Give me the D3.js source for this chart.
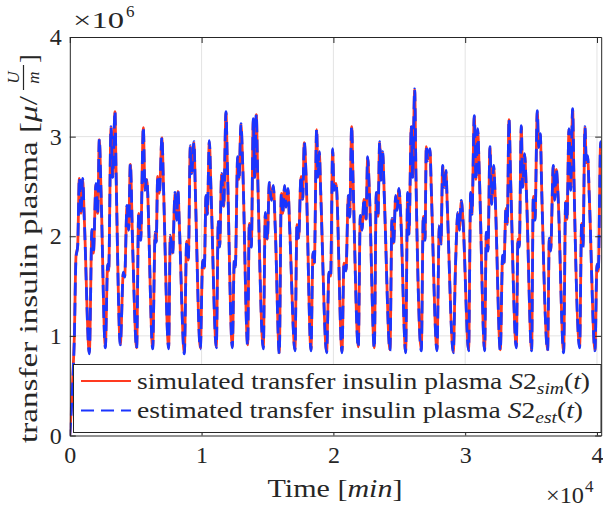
<!DOCTYPE html>
<html>
<head>
<meta charset="utf-8">
<script src="https://cdn.jsdelivr.net/npm/d3@7"></script>
<style>
  body { margin: 0; background: #fff; }
  svg { display: block; }
  text { font-family: "Liberation Serif", "DejaVu Serif", serif; fill: #262626; }
</style>
</head>
<body>
<div id="chart"></div>
<script>
// Time axis in minutes, insulin values in units of 1e6 (axis shows x10^6)
const timeMin = [
    0, 217, 344, 470, 597, 723, 850, 976, 1103,
    1482, 1684, 1786, 1988, 2114, 2241, 2367,
    2696, 2873, 2949, 3126, 3252, 3429, 3505,
    3834, 4062, 4163, 4340, 4466, 4593, 4770,
    5073, 5225, 5377, 5579, 5705, 5832,
    6287, 6480, 6560, 6666, 6793, 6995, 7096,
    7501, 7627, 7805, 7982, 8108, 8209, 8310,
    8690, 8867, 8993, 9145, 9246, 9423, 9524,
    9904, 10081, 10207, 10334, 10435, 10586, 10713,
    11117, 11269, 11370, 11522, 11674, 11851, 11952,
    12331, 12483, 12559, 12736, 12837, 12989, 13115,
    13495, 13621, 13773, 13924, 14026, 14152, 14253,
    14683, 14835, 14987, 15138, 15290, 15442, 15594,
    15897, 16049, 16150, 16302, 16403, 16555, 16681,
    17086, 17237, 17364, 17541, 17667, 17794, 17920,
    18300, 18451, 18553, 18729, 18831, 18932, 19033,
    19488, 19665, 19792, 19943, 20045, 20196,
    20652, 20804, 20956, 21133, 21234, 21386, 21487,
    21891, 22043, 22170, 22321, 22473, 22600, 22726,
    23105, 23257, 23384, 23510, 23611, 23738, 23864,
    24294, 24446, 24572, 24724, 24825, 24977, 25103,
    25483, 25634, 25736, 25913, 26014, 26166, 26266,
    26671, 26823, 26950, 27050, 27151, 27328, 27430,
    27860, 28037, 28163, 28290, 28416, 28542, 28644,
    29099, 29251, 29453, 29554, 29706, 29832,
    30262, 30414, 30515, 30692, 30819, 30945, 31071,
    31476, 31602, 31729, 31881, 32007, 32159, 32285,
    32665, 32842, 32943, 33095, 33196, 33322, 33449,
    33879, 34005, 34107, 34258, 34360, 34511, 34638,
    35042, 35169, 35295, 35472, 35573, 35700, 35801,
    36256, 36383, 36484, 36686, 36787, 36914, 37040,
    37470, 37622, 37723, 37875, 38001, 38153, 38254,
    38684, 38836, 38937, 39089, 39190, 39291, 39418,
    39848, 39999, 40100, 40277, 40320
];

const simValues = [
    0.00, 0.56, 0.99, 1.80, 1.90, 2.58, 2.23, 2.57, 2.17,
    0.83, 2.06, 1.83, 2.52, 2.23, 2.97, 2.47,
    0.89, 1.71, 1.65, 3.09, 2.60, 3.25, 2.70,
    0.92, 1.63, 1.60, 2.30, 2.07, 2.72, 1.90,
    0.88, 2.23, 1.97, 3.09, 2.47, 2.57,
    0.88, 2.03, 1.95, 2.60, 2.43, 2.99, 2.57,
    0.88, 2.00, 1.83, 2.43, 2.17, 2.45, 2.13,
    0.83, 1.95, 1.76, 2.90, 2.64, 2.94, 2.47,
    0.88, 1.75, 1.68, 2.40, 2.23, 2.95, 2.47,
    0.89, 2.15, 1.90, 2.62, 2.30, 3.24, 2.74,
    0.89, 1.75, 1.70, 2.79, 2.57, 3.12, 2.74,
    0.91, 2.13, 1.90, 3.17, 2.60, 3.22, 2.64,
    0.88, 2.23, 1.97, 2.53, 2.37, 2.50, 2.07,
    0.83, 2.43, 2.23, 2.50, 2.30, 2.47, 2.10,
    0.86, 2.12, 1.98, 2.60, 2.38, 2.94, 2.64,
    0.86, 1.83, 1.73, 3.07, 2.60, 2.84, 2.47,
    0.84, 1.63, 1.60, 2.87, 2.47, 2.53,
    0.84, 1.73, 1.66, 2.40, 2.20, 3.10, 2.60,
    0.89, 2.20, 2.07, 2.37, 2.17, 2.79, 2.47,
    0.88, 2.43, 2.20, 2.94, 2.57, 2.84, 2.40,
    0.86, 2.17, 1.93, 2.40, 2.27, 2.47, 2.23,
    0.84, 2.43, 2.03, 3.10, 2.60, 3.47, 2.60,
    0.86, 2.20, 1.97, 2.90, 2.77, 2.87, 2.47,
    0.86, 2.10, 1.93, 2.70, 2.50, 2.65, 2.30,
    0.84, 1.63, 2.23, 2.07, 2.35, 2.17,
    0.86, 2.43, 2.23, 3.20, 2.57, 3.07, 2.64,
    0.86, 2.03, 1.86, 2.89, 2.33, 2.70, 2.37,
    0.86, 1.80, 1.73, 2.28, 2.13, 3.17, 2.57,
    0.89, 1.97, 1.90, 3.10, 2.50, 2.82, 2.47,
    0.86, 2.40, 2.17, 3.25, 2.90, 3.02, 2.50,
    0.86, 1.97, 1.86, 2.70, 2.37, 2.67, 2.43,
    0.84, 2.35, 2.17, 3.07, 2.47, 3.27, 2.57,
    0.89, 2.13, 1.90, 3.09, 2.74, 2.80, 2.40,
    0.86, 1.71, 1.65, 2.94, 2.85
];

const estValues = [
    0.00, 0.52, 0.97, 1.78, 1.90, 2.59, 2.22, 2.58, 2.16,
    0.82, 2.07, 1.82, 2.53, 2.22, 2.98, 2.46,
    0.88, 1.72, 1.64, 3.10, 2.59, 3.26, 2.69,
    0.91, 1.64, 1.59, 2.31, 2.06, 2.73, 1.89,
    0.87, 2.24, 1.96, 3.10, 2.46, 2.58,
    0.87, 2.04, 1.94, 2.61, 2.42, 3.00, 2.56,
    0.87, 2.01, 1.82, 2.44, 2.16, 2.46, 2.12,
    0.82, 1.96, 1.75, 2.91, 2.63, 2.95, 2.46,
    0.87, 1.76, 1.67, 2.41, 2.22, 2.96, 2.46,
    0.88, 2.16, 1.89, 2.63, 2.29, 3.25, 2.73,
    0.88, 1.76, 1.69, 2.80, 2.56, 3.13, 2.73,
    0.90, 2.14, 1.89, 3.18, 2.59, 3.23, 2.63,
    0.87, 2.24, 1.96, 2.54, 2.36, 2.51, 2.06,
    0.82, 2.44, 2.22, 2.51, 2.29, 2.48, 2.09,
    0.85, 2.13, 1.97, 2.61, 2.37, 2.95, 2.63,
    0.85, 1.84, 1.72, 3.08, 2.59, 2.85, 2.46,
    0.83, 1.64, 1.59, 2.88, 2.46, 2.54,
    0.83, 1.74, 1.65, 2.41, 2.19, 3.11, 2.59,
    0.88, 2.21, 2.06, 2.38, 2.16, 2.80, 2.46,
    0.87, 2.44, 2.19, 2.95, 2.56, 2.85, 2.39,
    0.85, 2.18, 1.92, 2.41, 2.26, 2.48, 2.22,
    0.83, 2.44, 2.02, 3.11, 2.59, 3.48, 2.59,
    0.85, 2.21, 1.96, 2.91, 2.76, 2.88, 2.46,
    0.85, 2.11, 1.92, 2.71, 2.49, 2.66, 2.29,
    0.83, 1.64, 2.24, 2.06, 2.36, 2.16,
    0.85, 2.44, 2.22, 3.21, 2.56, 3.08, 2.63,
    0.85, 2.04, 1.85, 2.90, 2.32, 2.71, 2.36,
    0.85, 1.81, 1.72, 2.29, 2.12, 3.18, 2.56,
    0.88, 1.98, 1.89, 3.11, 2.49, 2.83, 2.46,
    0.85, 2.41, 2.16, 3.26, 2.89, 3.03, 2.49,
    0.85, 1.98, 1.85, 2.71, 2.36, 2.68, 2.42,
    0.83, 2.36, 2.16, 3.08, 2.46, 3.28, 2.56,
    0.88, 2.14, 1.89, 3.10, 2.73, 2.81, 2.39,
    0.85, 1.72, 1.64, 2.95, 2.86
];

const xTickValues = [0, 10000, 20000, 30000, 40000];
const xTickLabels = ['0', '1', '2', '3', '4'];
const yTickValues = [0, 1, 2, 3, 4];
const yTickLabels = ['0', '1', '2', '3', '4'];

const W = 603, H = 512;
const margin = { top: 37, right: 1.8, bottom: 76.5, left: 69.8 };
const width = W - margin.left - margin.right;
const height = H - margin.top - margin.bottom;

const COLORS = { sim: '#ff3a20', est: '#1a35ff', axis: '#262626', grid: '#e3e3e3' };
const DASH = '13,7';

// stretch text to the width measured on the reference (Computer Modern is wide)
const fit = (sel, len) => sel.attr('textLength', len).attr('lengthAdjust', 'spacingAndGlyphs');

const svgRoot = d3.select('#chart')
    .append('svg')
    .attr('width', W)
    .attr('height', H);

svgRoot.append('rect').attr('width', W).attr('height', H).attr('fill', '#fff');

const svg = svgRoot.append('g')
    .attr('transform', `translate(${margin.left},${margin.top})`);

const x = d3.scaleLinear().domain([0, 40320]).range([0, width]);
const y = d3.scaleLinear().domain([0, 4]).range([height, 0]);

// Grid
svg.append('g')
    .selectAll('line')
    .data(xTickValues.filter(d => d > 0 && d < 40320))
    .join('line')
    .attr('x1', d => x(d)).attr('x2', d => x(d))
    .attr('y1', 0).attr('y2', height)
    .attr('stroke', COLORS.grid).attr('stroke-width', 1);

svg.append('g')
    .selectAll('line')
    .data(yTickValues.filter(d => d > 0 && d < 4))
    .join('line')
    .attr('x1', 0).attr('x2', width)
    .attr('y1', d => y(d)).attr('y2', d => y(d))
    .attr('stroke', COLORS.grid).attr('stroke-width', 1);

// Lines
svgRoot.append('defs').append('clipPath').attr('id', 'plot-clip')
    .append('rect').attr('width', width).attr('height', height + 1);

const simData = timeMin.map((t, i) => ({ t, v: simValues[i] }));
const estData = timeMin.map((t, i) => ({ t, v: estValues[i] }));

const line = d3.line()
    .x(d => x(d.t))
    .y(d => y(d.v))
    .curve(d3.curveMonotoneX);

const plot = svg.append('g').attr('clip-path', 'url(#plot-clip)');

plot.append('path')
    .datum(simData)
    .attr('fill', 'none')
    .attr('stroke', COLORS.sim)
    .attr('stroke-width', 2.8)
    .attr('stroke-linejoin', 'round')
    .attr('d', line);

plot.append('path')
    .datum(estData)
    .attr('fill', 'none')
    .attr('stroke', COLORS.est)
    .attr('stroke-width', 2.8)
    .attr('stroke-dasharray', DASH)
    .attr('stroke-linejoin', 'round')
    .attr('d', line);

// Axes (MATLAB style: inward ticks, box on)
const tickFont = 24;

svg.append('g')
    .attr('transform', `translate(0,${height})`)
    .call(d3.axisBottom(x).tickValues(xTickValues)
        .tickFormat((d, i) => xTickLabels[i])
        .tickSizeInner(-6).tickSizeOuter(0).tickPadding(10));

svg.append('g')
    .call(d3.axisLeft(y).tickValues(yTickValues)
        .tickFormat((d, i) => yTickLabels[i])
        .tickSizeInner(-6).tickSizeOuter(0).tickPadding(8));

svg.append('g')
    .attr('transform', `translate(${width},0)`)
    .call(d3.axisRight(y).tickValues(yTickValues).tickFormat('')
        .tickSizeInner(-6).tickSizeOuter(0));

svg.append('g')
    .call(d3.axisTop(x).tickValues(xTickValues).tickFormat('')
        .tickSizeInner(-6).tickSizeOuter(0));

svg.selectAll('.domain').attr('stroke', COLORS.axis).attr('stroke-width', 1);
svg.selectAll('.tick line').attr('stroke', COLORS.axis);
svg.selectAll('.tick text')
    .attr('font-family', '"Liberation Serif", serif')
    .attr('font-size', tickFont)
    .attr('fill', COLORS.axis);

// Exponent labels
const exp6 = svgRoot.append('g');
fit(exp6.append('text').attr('x', 73).attr('y', 28).attr('font-size', tickFont).text('\u00d710'), 51);
exp6.append('text').attr('x', 126).attr('y', 17).attr('font-size', 17).text('6');

const exp4 = svgRoot.append('g');
fit(exp4.append('text').attr('x', 546).attr('y', 503).attr('font-size', tickFont).text('\u00d710'), 38);
exp4.append('text').attr('x', 585).attr('y', 492).attr('font-size', 17).text('4');

// X label
const xLabel = svgRoot.append('text')
    .attr('x', 335)
    .attr('y', 497)
    .attr('text-anchor', 'middle')
    .attr('font-size', 26);
xLabel.append('tspan').text('Time [');
xLabel.append('tspan').attr('font-style', 'italic').text('min');
xLabel.append('tspan').text(']');
fit(xLabel, 135);

// Y label with fraction U/m  (local x runs upward on screen)
const yLab = svgRoot.append('g').attr('transform', 'translate(37,240) rotate(-90)');
const yMain = yLab.append('text').attr('x', -203).attr('font-size', 26);
yMain.append('tspan').text('transfer insulin plasma [');
yMain.append('tspan').attr('font-style', 'italic').text('\u03bc');
yMain.append('tspan').text('/');
fit(yMain, 347);
const fracX0 = 150, fracX1 = 175;
yLab.append('text').attr('font-size', 17).attr('font-style', 'italic')
    .attr('text-anchor', 'middle')
    .attr('x', (fracX0 + fracX1) / 2).attr('y', -18).text('U');
yLab.append('line')
    .attr('x1', fracX0).attr('x2', fracX1)
    .attr('y1', -13.5).attr('y2', -13.5)
    .attr('stroke', COLORS.axis).attr('stroke-width', 1.2);
yLab.append('text').attr('font-size', 17).attr('font-style', 'italic')
    .attr('text-anchor', 'middle')
    .attr('x', (fracX0 + fracX1) / 2).attr('y', 2).text('m');
yLab.append('text').attr('font-size', 26).attr('x', fracX1 + 2).text(']');

// Legend
const legend = svgRoot.append('g');
legend.append('rect')
    .attr('x', 73.5).attr('y', 364.5)
    .attr('width', 527.5).attr('height', 68)
    .attr('fill', '#fff')
    .attr('stroke', COLORS.axis).attr('stroke-width', 1);

const legendRows = [
    { name: 'simulated transfer insulin plasma ', sub: 'sim', color: COLORS.sim, dash: null, len: 453 },
    { name: 'estimated transfer insulin plasma ', sub: 'est', color: COLORS.est, dash: DASH, len: 446 }
];

legendRows.forEach((row, i) => {
    const cy = 381 + i * 29.5;
    legend.append('line')
        .attr('x1', 81).attr('x2', 131)
        .attr('y1', cy).attr('y2', cy)
        .attr('stroke', row.color).attr('stroke-width', 2)
        .attr('stroke-dasharray', row.dash);
    const t = legend.append('text')
        .attr('x', 137).attr('y', cy + 7.5)
        .attr('font-size', 24);
    t.append('tspan').text(row.name);
    t.append('tspan').attr('font-style', 'italic').text('S');
    t.append('tspan').text('2');
    t.append('tspan').attr('font-style', 'italic').attr('font-size', 17).attr('dy', 5).text(row.sub);
    t.append('tspan').attr('dy', -5).text('(');
    t.append('tspan').attr('font-style', 'italic').text('t');
    t.append('tspan').text(')');
    fit(t, row.len);
});
</script>
</body>
</html>
